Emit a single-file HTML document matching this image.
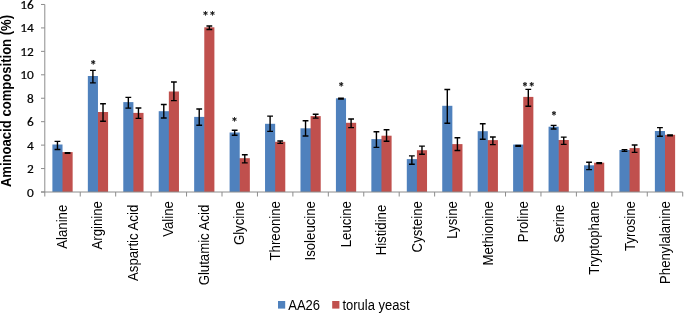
<!DOCTYPE html><html><head><meta charset="utf-8"><style>html,body{margin:0;padding:0;background:#fff;overflow:hidden}svg{display:block}</style></head><body>
<svg width="685" height="314" viewBox="0 0 685 314">
<rect width="685" height="314" fill="#fff"/>
<rect x="61.92" y="152.10" width="10.72" height="39.90" fill="#C0504D"/>
<rect x="52.40" y="144.50" width="10.12" height="47.50" fill="#4F81BD"/>
<rect x="97.36" y="112.00" width="10.72" height="80.00" fill="#C0504D"/>
<rect x="87.84" y="76.00" width="10.12" height="116.00" fill="#4F81BD"/>
<rect x="132.80" y="112.90" width="10.72" height="79.10" fill="#C0504D"/>
<rect x="123.28" y="102.10" width="10.12" height="89.90" fill="#4F81BD"/>
<rect x="158.72" y="111.20" width="10.72" height="80.80" fill="#4F81BD"/>
<rect x="168.84" y="91.50" width="10.12" height="100.50" fill="#C0504D"/>
<rect x="194.16" y="116.90" width="10.72" height="75.10" fill="#4F81BD"/>
<rect x="204.28" y="27.30" width="10.12" height="164.70" fill="#C0504D"/>
<rect x="239.12" y="158.20" width="10.72" height="33.80" fill="#C0504D"/>
<rect x="229.60" y="132.50" width="10.12" height="59.50" fill="#4F81BD"/>
<rect x="274.56" y="141.80" width="10.72" height="50.20" fill="#C0504D"/>
<rect x="265.04" y="123.80" width="10.12" height="68.20" fill="#4F81BD"/>
<rect x="300.48" y="128.30" width="10.72" height="63.70" fill="#4F81BD"/>
<rect x="310.60" y="116.10" width="10.12" height="75.90" fill="#C0504D"/>
<rect x="345.44" y="122.80" width="10.72" height="69.20" fill="#C0504D"/>
<rect x="335.92" y="98.30" width="10.12" height="93.70" fill="#4F81BD"/>
<rect x="371.36" y="139.10" width="10.72" height="52.90" fill="#4F81BD"/>
<rect x="381.48" y="135.70" width="10.12" height="56.30" fill="#C0504D"/>
<rect x="406.80" y="159.10" width="10.72" height="32.90" fill="#4F81BD"/>
<rect x="416.92" y="150.20" width="10.12" height="41.80" fill="#C0504D"/>
<rect x="451.76" y="144.10" width="10.72" height="47.90" fill="#C0504D"/>
<rect x="442.24" y="105.80" width="10.12" height="86.20" fill="#4F81BD"/>
<rect x="487.20" y="140.10" width="10.72" height="51.90" fill="#C0504D"/>
<rect x="477.68" y="131.20" width="10.12" height="60.80" fill="#4F81BD"/>
<rect x="513.12" y="144.55" width="10.72" height="47.45" fill="#4F81BD"/>
<rect x="523.24" y="96.90" width="10.12" height="95.10" fill="#C0504D"/>
<rect x="558.08" y="140.00" width="10.72" height="52.00" fill="#C0504D"/>
<rect x="548.56" y="126.70" width="10.12" height="65.30" fill="#4F81BD"/>
<rect x="584.00" y="165.30" width="10.72" height="26.70" fill="#4F81BD"/>
<rect x="594.12" y="162.70" width="10.12" height="29.30" fill="#C0504D"/>
<rect x="619.44" y="150.00" width="10.72" height="42.00" fill="#4F81BD"/>
<rect x="629.56" y="148.10" width="10.12" height="43.90" fill="#C0504D"/>
<rect x="664.40" y="134.80" width="10.72" height="57.20" fill="#C0504D"/>
<rect x="654.88" y="131.00" width="10.12" height="61.00" fill="#4F81BD"/>
<g stroke="#8C8C8C" stroke-width="1" fill="none">
<path d="M44.80 4.5V196.5"/>
<path d="M41 192.0H682.72"/>
<path d="M41 192.00H44.80"/>
<path d="M41 168.56H44.80"/>
<path d="M41 145.12H44.80"/>
<path d="M41 121.68H44.80"/>
<path d="M41 98.24H44.80"/>
<path d="M41 74.80H44.80"/>
<path d="M41 51.36H44.80"/>
<path d="M41 27.92H44.80"/>
<path d="M41 4.48H44.80"/>
<path d="M80.24 192.0V196.5"/>
<path d="M115.68 192.0V196.5"/>
<path d="M151.12 192.0V196.5"/>
<path d="M186.56 192.0V196.5"/>
<path d="M222.00 192.0V196.5"/>
<path d="M257.44 192.0V196.5"/>
<path d="M292.88 192.0V196.5"/>
<path d="M328.32 192.0V196.5"/>
<path d="M363.76 192.0V196.5"/>
<path d="M399.20 192.0V196.5"/>
<path d="M434.64 192.0V196.5"/>
<path d="M470.08 192.0V196.5"/>
<path d="M505.52 192.0V196.5"/>
<path d="M540.96 192.0V196.5"/>
<path d="M576.40 192.0V196.5"/>
<path d="M611.84 192.0V196.5"/>
<path d="M647.28 192.0V196.5"/>
<path d="M682.72 192.0V196.5"/>
</g>
<g stroke="#000" stroke-width="1.4" fill="none">
<path d="M54.56 141.40H60.36M57.46 141.40V149.50M54.56 149.50H60.36"/>
<path d="M64.68 152.60H70.48M67.58 152.60V153.40M64.68 153.40H70.48"/>
<path d="M90.00 70.40H95.80M92.90 70.40V82.90M90.00 82.90H95.80"/>
<path d="M100.12 103.80H105.92M103.02 103.80V121.30M100.12 121.30H105.92"/>
<path d="M125.44 97.35H131.24M128.34 97.35V108.15M125.44 108.15H131.24"/>
<path d="M135.56 107.95H141.36M138.46 107.95V118.40M135.56 118.40H141.36"/>
<path d="M160.88 104.50H166.68M163.78 104.50V118.00M160.88 118.00H166.68"/>
<path d="M171.00 82.00H176.80M173.90 82.00V100.60M171.00 100.60H176.80"/>
<path d="M196.32 109.00H202.12M199.22 109.00V125.30M196.32 125.30H202.12"/>
<path d="M206.44 26.00H212.24M209.34 26.00V29.50M206.44 29.50H212.24"/>
<path d="M231.76 130.30H237.56M234.66 130.30V135.20M231.76 135.20H237.56"/>
<path d="M241.88 154.70H247.68M244.78 154.70V162.90M241.88 162.90H247.68"/>
<path d="M267.20 116.10H273.00M270.10 116.10V131.40M267.20 131.40H273.00"/>
<path d="M277.32 141.00H283.12M280.22 141.00V143.40M277.32 143.40H283.12"/>
<path d="M302.64 120.70H308.44M305.54 120.70V136.00M302.64 136.00H308.44"/>
<path d="M312.76 114.30H318.56M315.66 114.30V118.10M312.76 118.10H318.56"/>
<path d="M338.08 98.30H343.88M340.98 98.30V99.10M338.08 99.10H343.88"/>
<path d="M348.20 119.00H354.00M351.10 119.00V127.60M348.20 127.60H354.00"/>
<path d="M373.52 131.70H379.32M376.42 131.70V147.40M373.52 147.40H379.32"/>
<path d="M383.64 129.80H389.44M386.54 129.80V141.30M383.64 141.30H389.44"/>
<path d="M408.96 155.90H414.76M411.86 155.90V164.20M408.96 164.20H414.76"/>
<path d="M419.08 146.10H424.88M421.98 146.10V154.30M419.08 154.30H424.88"/>
<path d="M444.40 89.50H450.20M447.30 89.50V123.20M444.40 123.20H450.20"/>
<path d="M454.52 137.70H460.32M457.42 137.70V150.50M454.52 150.50H460.32"/>
<path d="M479.84 123.70H485.64M482.74 123.70V139.20M479.84 139.20H485.64"/>
<path d="M489.96 137.00H495.76M492.86 137.00V144.60M489.96 144.60H495.76"/>
<path d="M515.28 145.40H521.08M518.18 145.40V146.20M515.28 146.20H521.08"/>
<path d="M525.40 89.40H531.20M528.30 89.40V106.20M525.40 106.20H531.20"/>
<path d="M550.72 125.40H556.52M553.62 125.40V129.00M550.72 129.00H556.52"/>
<path d="M560.84 137.10H566.64M563.74 137.10V144.40M560.84 144.40H566.64"/>
<path d="M586.16 162.20H591.96M589.06 162.20V169.60M586.16 169.60H591.96"/>
<path d="M596.28 162.80H602.08M599.18 162.80V163.60M596.28 163.60H602.08"/>
<path d="M621.60 149.60H627.40M624.50 149.60V151.40M621.60 151.40H627.40"/>
<path d="M631.72 145.00H637.52M634.62 145.00V152.40M631.72 152.40H637.52"/>
<path d="M657.04 127.60H662.84M659.94 127.60V136.20M657.04 136.20H662.84"/>
<path d="M667.16 134.90H672.96M670.06 134.90V135.70M667.16 135.70H672.96"/>
</g>
<g font-family="Carlito, 'Liberation Sans', sans-serif" font-size="12" fill="#000" stroke="#000" stroke-width="0.2" text-anchor="end">
<text transform="translate(33.7 196.50) scale(1.11 1)" textLength="6.08" lengthAdjust="spacingAndGlyphs">0</text>
<text transform="translate(33.7 173.06) scale(1.11 1)" textLength="6.08" lengthAdjust="spacingAndGlyphs">2</text>
<text transform="translate(33.7 149.62) scale(1.11 1)" textLength="6.08" lengthAdjust="spacingAndGlyphs">4</text>
<text transform="translate(33.7 126.18) scale(1.11 1)" textLength="6.08" lengthAdjust="spacingAndGlyphs">6</text>
<text transform="translate(33.7 102.74) scale(1.11 1)" textLength="6.08" lengthAdjust="spacingAndGlyphs">8</text>
<text transform="translate(33.7 79.30) scale(1.11 1)" textLength="12.16" lengthAdjust="spacingAndGlyphs">10</text>
<text transform="translate(33.7 55.86) scale(1.11 1)" textLength="12.16" lengthAdjust="spacingAndGlyphs">12</text>
<text transform="translate(33.7 32.42) scale(1.11 1)" textLength="12.16" lengthAdjust="spacingAndGlyphs">14</text>
<text transform="translate(33.7 8.98) scale(1.11 1)" textLength="12.16" lengthAdjust="spacingAndGlyphs">16</text>
</g>
<g font-family="Carlito, 'Liberation Serif', serif" font-size="14" fill="#000" stroke="#000" stroke-width="0.25" text-anchor="middle">
<text x="93.20" y="70.40">*</text>
<text x="234.60" y="126.60">*</text>
<text x="341.30" y="92.40">*</text>
<text x="554.10" y="120.70">*</text>
<text x="205.60" y="21.10">*</text>
<text x="212.60" y="21.10">*</text>
<text x="525.00" y="91.50">*</text>
<text x="531.80" y="91.50">*</text>
</g>
<g font-family="'Liberation Sans', Arial, sans-serif" font-size="13.2" fill="#000" text-anchor="end">
<text transform="translate(66.80 204.77) rotate(-90) scale(1 1.08)">Alanine</text>
<text transform="translate(102.31 201.10) rotate(-90) scale(1 1.08)">Arginine</text>
<text transform="translate(137.82 204.77) rotate(-90) scale(1 1.08)">Aspartic Acid</text>
<text transform="translate(173.33 201.10) rotate(-90) scale(1 1.08)">Valine</text>
<text transform="translate(208.84 204.77) rotate(-90) scale(1 1.08)">Glutamic Acid</text>
<text transform="translate(244.35 201.10) rotate(-90) scale(1 1.08)">Glycine</text>
<text transform="translate(279.86 201.10) rotate(-90) scale(1 1.08)">Threonine</text>
<text transform="translate(315.37 201.10) rotate(-90) scale(1 1.08)">Isoleucine</text>
<text transform="translate(350.88 201.10) rotate(-90) scale(1 1.08)">Leucine</text>
<text transform="translate(386.39 204.77) rotate(-90) scale(1 1.08)">Histidine</text>
<text transform="translate(421.90 201.10) rotate(-90) scale(1 1.08)">Cysteine</text>
<text transform="translate(457.41 201.10) rotate(-90) scale(1 1.08)">Lysine</text>
<text transform="translate(492.92 201.10) rotate(-90) scale(1 1.08)">Methionine</text>
<text transform="translate(528.43 201.10) rotate(-90) scale(1 1.08)">Proline</text>
<text transform="translate(563.94 204.77) rotate(-90) scale(1 1.08)">Serine</text>
<text transform="translate(599.45 201.10) rotate(-90) scale(1 1.08)">Tryptophane</text>
<text transform="translate(634.96 201.10) rotate(-90) scale(1 1.08)">Tyrosine</text>
<text transform="translate(670.47 201.10) rotate(-90) scale(1 1.08)">Phenylalanine</text>
</g>
<text transform="translate(10.6 187.1) rotate(-90) scale(1 1.08)" font-family="'Liberation Sans', Arial, sans-serif" font-size="13.08" font-weight="bold" fill="#000">Aminoacid composition (%)</text>
<rect x="278" y="301" width="7.2" height="7.6" fill="#4F81BD"/>
<text transform="translate(288.3 310) scale(1 1.06)" font-family="'Liberation Sans', Arial, sans-serif" font-size="13" fill="#000">AA26</text>
<rect x="332.2" y="301" width="7.2" height="7.6" fill="#C0504D"/>
<text transform="translate(342.4 310) scale(1 1.06)" font-family="'Liberation Sans', Arial, sans-serif" font-size="13" fill="#000">torula yeast</text>
</svg></body></html>
